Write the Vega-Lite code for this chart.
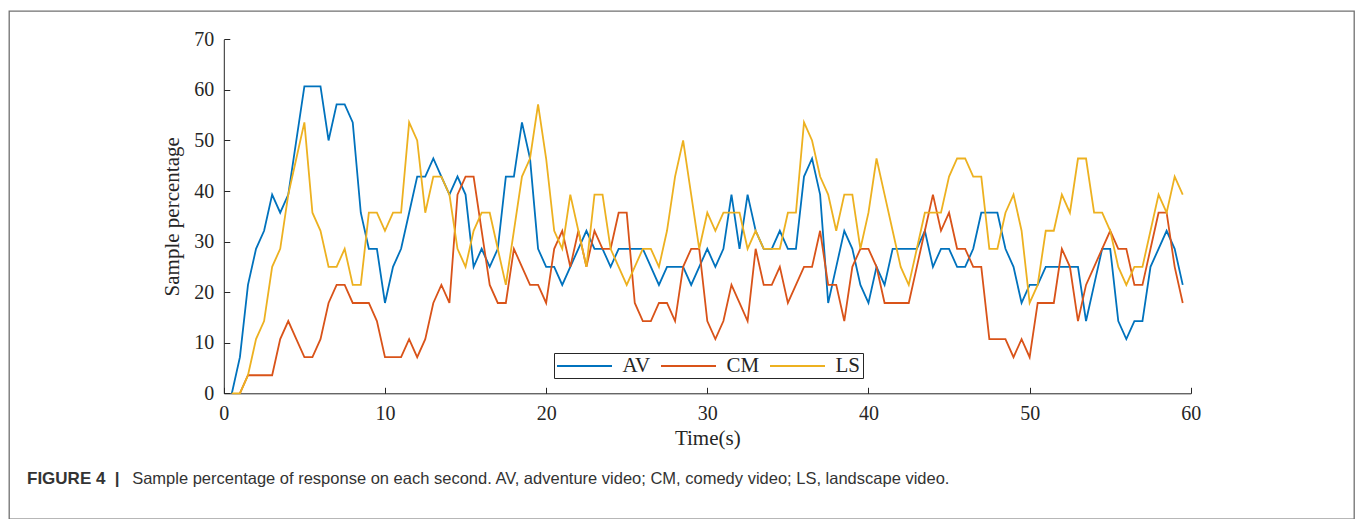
{
  "$schema": "https://vega.github.io/schema/vega-lite/v6.json",
  "width": 1345,
  "height": 508,
  "autosize": {"type": "none"},
  "padding": {"left": 9, "top": 11, "right": 1, "bottom": 0},
  "background": "white",
  "config": {
    "view": {"stroke": "#707070", "strokeWidth": 1.3},
    "font": "Liberation Serif"
  },
  "title": {
    "text": "FIGURE 4\u00a0\u00a0|",
    "subtitle": "\u2800\u2800\u2800\u2800\u2800\u2800\u2800\u2800\u00a0\u00a0Sample percentage of response on each second. AV, adventure video; CM, comedy video; LS, landscape video.",
    "orient": "bottom",
    "anchor": "start",
    "frame": "group",
    "offset": -48.5,
    "dx": 18,
    "font": "Liberation Sans",
    "fontSize": 17,
    "fontWeight": "bold",
    "color": "#333333",
    "subtitleFont": "Liberation Sans",
    "subtitleFontSize": 16.5,
    "subtitleFontWeight": "normal",
    "subtitleColor": "#333333",
    "subtitlePadding": -16.6
  },
  "data": {
    "values": [
      {"t": 0.5, "AV": 0, "CM": null, "LS": 0},
      {"t": 1, "AV": 7.14, "CM": 0, "LS": 0},
      {"t": 1.5, "AV": 21.43, "CM": 3.57, "LS": 3.57},
      {"t": 2, "AV": 28.57, "CM": 3.57, "LS": 10.71},
      {"t": 2.5, "AV": 32.14, "CM": 3.57, "LS": 14.29},
      {"t": 3, "AV": 39.29, "CM": 3.57, "LS": 25},
      {"t": 3.5, "AV": 35.71, "CM": 10.71, "LS": 28.57},
      {"t": 4, "AV": 39.29, "CM": 14.29, "LS": 39.29},
      {"t": 4.5, "AV": 50, "CM": 10.71, "LS": 46.43},
      {"t": 5, "AV": 60.71, "CM": 7.14, "LS": 53.57},
      {"t": 5.5, "AV": 60.71, "CM": 7.14, "LS": 35.71},
      {"t": 6, "AV": 60.71, "CM": 10.71, "LS": 32.14},
      {"t": 6.5, "AV": 50, "CM": 17.86, "LS": 25},
      {"t": 7, "AV": 57.14, "CM": 21.43, "LS": 25},
      {"t": 7.5, "AV": 57.14, "CM": 21.43, "LS": 28.57},
      {"t": 8, "AV": 53.57, "CM": 17.86, "LS": 21.43},
      {"t": 8.5, "AV": 35.71, "CM": 17.86, "LS": 21.43},
      {"t": 9, "AV": 28.57, "CM": 17.86, "LS": 35.71},
      {"t": 9.5, "AV": 28.57, "CM": 14.29, "LS": 35.71},
      {"t": 10, "AV": 17.86, "CM": 7.14, "LS": 32.14},
      {"t": 10.5, "AV": 25, "CM": 7.14, "LS": 35.71},
      {"t": 11, "AV": 28.57, "CM": 7.14, "LS": 35.71},
      {"t": 11.5, "AV": 35.71, "CM": 10.71, "LS": 53.57},
      {"t": 12, "AV": 42.86, "CM": 7.14, "LS": 50},
      {"t": 12.5, "AV": 42.86, "CM": 10.71, "LS": 35.71},
      {"t": 13, "AV": 46.43, "CM": 17.86, "LS": 42.86},
      {"t": 13.5, "AV": 42.86, "CM": 21.43, "LS": 42.86},
      {"t": 14, "AV": 39.29, "CM": 17.86, "LS": 39.29},
      {"t": 14.5, "AV": 42.86, "CM": 39.29, "LS": 28.57},
      {"t": 15, "AV": 39.29, "CM": 42.86, "LS": 25},
      {"t": 15.5, "AV": 25, "CM": 42.86, "LS": 32.14},
      {"t": 16, "AV": 28.57, "CM": 32.14, "LS": 35.71},
      {"t": 16.5, "AV": 25, "CM": 21.43, "LS": 35.71},
      {"t": 17, "AV": 28.57, "CM": 17.86, "LS": 28.57},
      {"t": 17.5, "AV": 42.86, "CM": 17.86, "LS": 21.43},
      {"t": 18, "AV": 42.86, "CM": 28.57, "LS": 32.14},
      {"t": 18.5, "AV": 53.57, "CM": 25, "LS": 42.86},
      {"t": 19, "AV": 46.43, "CM": 21.43, "LS": 46.43},
      {"t": 19.5, "AV": 28.57, "CM": 21.43, "LS": 57.14},
      {"t": 20, "AV": 25, "CM": 17.86, "LS": 46.43},
      {"t": 20.5, "AV": 25, "CM": 28.57, "LS": 32.14},
      {"t": 21, "AV": 21.43, "CM": 32.14, "LS": 28.57},
      {"t": 21.5, "AV": 25, "CM": 25, "LS": 39.29},
      {"t": 22, "AV": 28.57, "CM": 32.14, "LS": 32.14},
      {"t": 22.5, "AV": 32.14, "CM": 25, "LS": 25},
      {"t": 23, "AV": 28.57, "CM": 32.14, "LS": 39.29},
      {"t": 23.5, "AV": 28.57, "CM": 28.57, "LS": 39.29},
      {"t": 24, "AV": 25, "CM": 28.57, "LS": 28.57},
      {"t": 24.5, "AV": 28.57, "CM": 35.71, "LS": 25},
      {"t": 25, "AV": 28.57, "CM": 35.71, "LS": 21.43},
      {"t": 25.5, "AV": 28.57, "CM": 17.86, "LS": 25},
      {"t": 26, "AV": 28.57, "CM": 14.29, "LS": 28.57},
      {"t": 26.5, "AV": 25, "CM": 14.29, "LS": 28.57},
      {"t": 27, "AV": 21.43, "CM": 17.86, "LS": 25},
      {"t": 27.5, "AV": 25, "CM": 17.86, "LS": 32.14},
      {"t": 28, "AV": 25, "CM": 14.29, "LS": 42.86},
      {"t": 28.5, "AV": 25, "CM": 25, "LS": 50},
      {"t": 29, "AV": 21.43, "CM": 28.57, "LS": 39.29},
      {"t": 29.5, "AV": 25, "CM": 28.57, "LS": 28.57},
      {"t": 30, "AV": 28.57, "CM": 14.29, "LS": 35.71},
      {"t": 30.5, "AV": 25, "CM": 10.71, "LS": 32.14},
      {"t": 31, "AV": 28.57, "CM": 14.29, "LS": 35.71},
      {"t": 31.5, "AV": 39.29, "CM": 21.43, "LS": 35.71},
      {"t": 32, "AV": 28.57, "CM": 17.86, "LS": 35.71},
      {"t": 32.5, "AV": 39.29, "CM": 14.29, "LS": 28.57},
      {"t": 33, "AV": 32.14, "CM": 28.57, "LS": 32.14},
      {"t": 33.5, "AV": 28.57, "CM": 21.43, "LS": 28.57},
      {"t": 34, "AV": 28.57, "CM": 21.43, "LS": 28.57},
      {"t": 34.5, "AV": 32.14, "CM": 25, "LS": 28.57},
      {"t": 35, "AV": 28.57, "CM": 17.86, "LS": 35.71},
      {"t": 35.5, "AV": 28.57, "CM": 21.43, "LS": 35.71},
      {"t": 36, "AV": 42.86, "CM": 25, "LS": 53.57},
      {"t": 36.5, "AV": 46.43, "CM": 25, "LS": 50},
      {"t": 37, "AV": 39.29, "CM": 32.14, "LS": 42.86},
      {"t": 37.5, "AV": 17.86, "CM": 21.43, "LS": 39.29},
      {"t": 38, "AV": 25, "CM": 21.43, "LS": 32.14},
      {"t": 38.5, "AV": 32.14, "CM": 14.29, "LS": 39.29},
      {"t": 39, "AV": 28.57, "CM": 25, "LS": 39.29},
      {"t": 39.5, "AV": 21.43, "CM": 28.57, "LS": 28.57},
      {"t": 40, "AV": 17.86, "CM": 28.57, "LS": 35.71},
      {"t": 40.5, "AV": 25, "CM": 25, "LS": 46.43},
      {"t": 41, "AV": 21.43, "CM": 17.86, "LS": 39.29},
      {"t": 41.5, "AV": 28.57, "CM": 17.86, "LS": 32.14},
      {"t": 42, "AV": 28.57, "CM": 17.86, "LS": 25},
      {"t": 42.5, "AV": 28.57, "CM": 17.86, "LS": 21.43},
      {"t": 43, "AV": 28.57, "CM": 25, "LS": 28.57},
      {"t": 43.5, "AV": 32.14, "CM": 32.14, "LS": 35.71},
      {"t": 44, "AV": 25, "CM": 39.29, "LS": 35.71},
      {"t": 44.5, "AV": 28.57, "CM": 32.14, "LS": 35.71},
      {"t": 45, "AV": 28.57, "CM": 35.71, "LS": 42.86},
      {"t": 45.5, "AV": 25, "CM": 28.57, "LS": 46.43},
      {"t": 46, "AV": 25, "CM": 28.57, "LS": 46.43},
      {"t": 46.5, "AV": 28.57, "CM": 25, "LS": 42.86},
      {"t": 47, "AV": 35.71, "CM": 25, "LS": 42.86},
      {"t": 47.5, "AV": 35.71, "CM": 10.71, "LS": 28.57},
      {"t": 48, "AV": 35.71, "CM": 10.71, "LS": 28.57},
      {"t": 48.5, "AV": 28.57, "CM": 10.71, "LS": 35.71},
      {"t": 49, "AV": 25, "CM": 7.14, "LS": 39.29},
      {"t": 49.5, "AV": 17.86, "CM": 10.71, "LS": 32.14},
      {"t": 50, "AV": 21.43, "CM": 7.14, "LS": 17.86},
      {"t": 50.5, "AV": 21.43, "CM": 17.86, "LS": 21.43},
      {"t": 51, "AV": 25, "CM": 17.86, "LS": 32.14},
      {"t": 51.5, "AV": 25, "CM": 17.86, "LS": 32.14},
      {"t": 52, "AV": 25, "CM": 28.57, "LS": 39.29},
      {"t": 52.5, "AV": 25, "CM": 25, "LS": 35.71},
      {"t": 53, "AV": 25, "CM": 14.29, "LS": 46.43},
      {"t": 53.5, "AV": 14.29, "CM": 21.43, "LS": 46.43},
      {"t": 54, "AV": 21.43, "CM": 25, "LS": 35.71},
      {"t": 54.5, "AV": 28.57, "CM": 28.57, "LS": 35.71},
      {"t": 55, "AV": 28.57, "CM": 32.14, "LS": 32.14},
      {"t": 55.5, "AV": 14.29, "CM": 28.57, "LS": 25},
      {"t": 56, "AV": 10.71, "CM": 28.57, "LS": 21.43},
      {"t": 56.5, "AV": 14.29, "CM": 21.43, "LS": 25},
      {"t": 57, "AV": 14.29, "CM": 21.43, "LS": 25},
      {"t": 57.5, "AV": 25, "CM": 28.57, "LS": 32.14},
      {"t": 58, "AV": 28.57, "CM": 35.71, "LS": 39.29},
      {"t": 58.5, "AV": 32.14, "CM": 35.71, "LS": 35.71},
      {"t": 59, "AV": 28.57, "CM": 25, "LS": 42.86},
      {"t": 59.5, "AV": 21.43, "CM": 17.86, "LS": 39.29}
    ]
  },
  "transform": [{"fold": ["AV", "CM", "LS"], "as": ["series", "value"]}],
  "mark": {"type": "line", "strokeWidth": 1.8},
  "encoding": {
    "x": {
      "field": "t",
      "type": "quantitative",
      "scale": {"domain": [0, 60], "range": [214.8, 1181.8], "nice": false, "zero": false},
      "axis": {
        "title": "Time(s)",
        "values": [0, 10, 20, 30, 40, 50, 60],
        "offset": -125.7,
        "tickSize": -6,
        "labelPadding": 16,
        "labelFlush": false,
        "grid": false,
        "domainColor": "#262626",
        "tickColor": "#262626",
        "labelColor": "#262626",
        "titleColor": "#262626",
        "labelFont": "Liberation Serif",
        "labelFontSize": 20,
        "titleFont": "Liberation Serif",
        "titleFontSize": 21,
        "titleFontWeight": "normal",
        "titlePadding": 4
      }
    },
    "y": {
      "field": "value",
      "type": "quantitative",
      "scale": {"domain": [0, 70], "range": [382.3, 28.3], "nice": false},
      "axis": {
        "title": "Sample percentage",
        "values": [0, 10, 20, 30, 40, 50, 60, 70],
        "offset": -214.8,
        "tickSize": -6,
        "labelPadding": 16,
        "grid": false,
        "domainColor": "#262626",
        "tickColor": "#262626",
        "labelColor": "#262626",
        "titleColor": "#262626",
        "labelFont": "Liberation Serif",
        "labelFontSize": 20,
        "titleFont": "Liberation Serif",
        "titleFontSize": 21,
        "titleFontWeight": "normal",
        "titlePadding": 11
      }
    },
    "color": {
      "field": "series",
      "type": "nominal",
      "scale": {"domain": ["AV", "CM", "LS"], "range": ["#0072BD", "#D95319", "#EDB120"]},
      "legend": {
        "title": null,
        "orient": "none",
        "legendX": 545,
        "legendY": 342,
        "direction": "horizontal",
        "symbolType": "M-2.75,0H2.75",
        "symbolSize": 400,
        "symbolOffset": 17.5,
        "symbolStrokeWidth": 1.8,
        "labelFont": "Liberation Serif",
        "labelFontSize": 21,
        "labelColor": "#262626",
        "labelOffset": 27,
        "columnPadding": 6,
        "padding": 2,
        "strokeColor": "#262626",
        "fillColor": "white"
      }
    }
  }
}
